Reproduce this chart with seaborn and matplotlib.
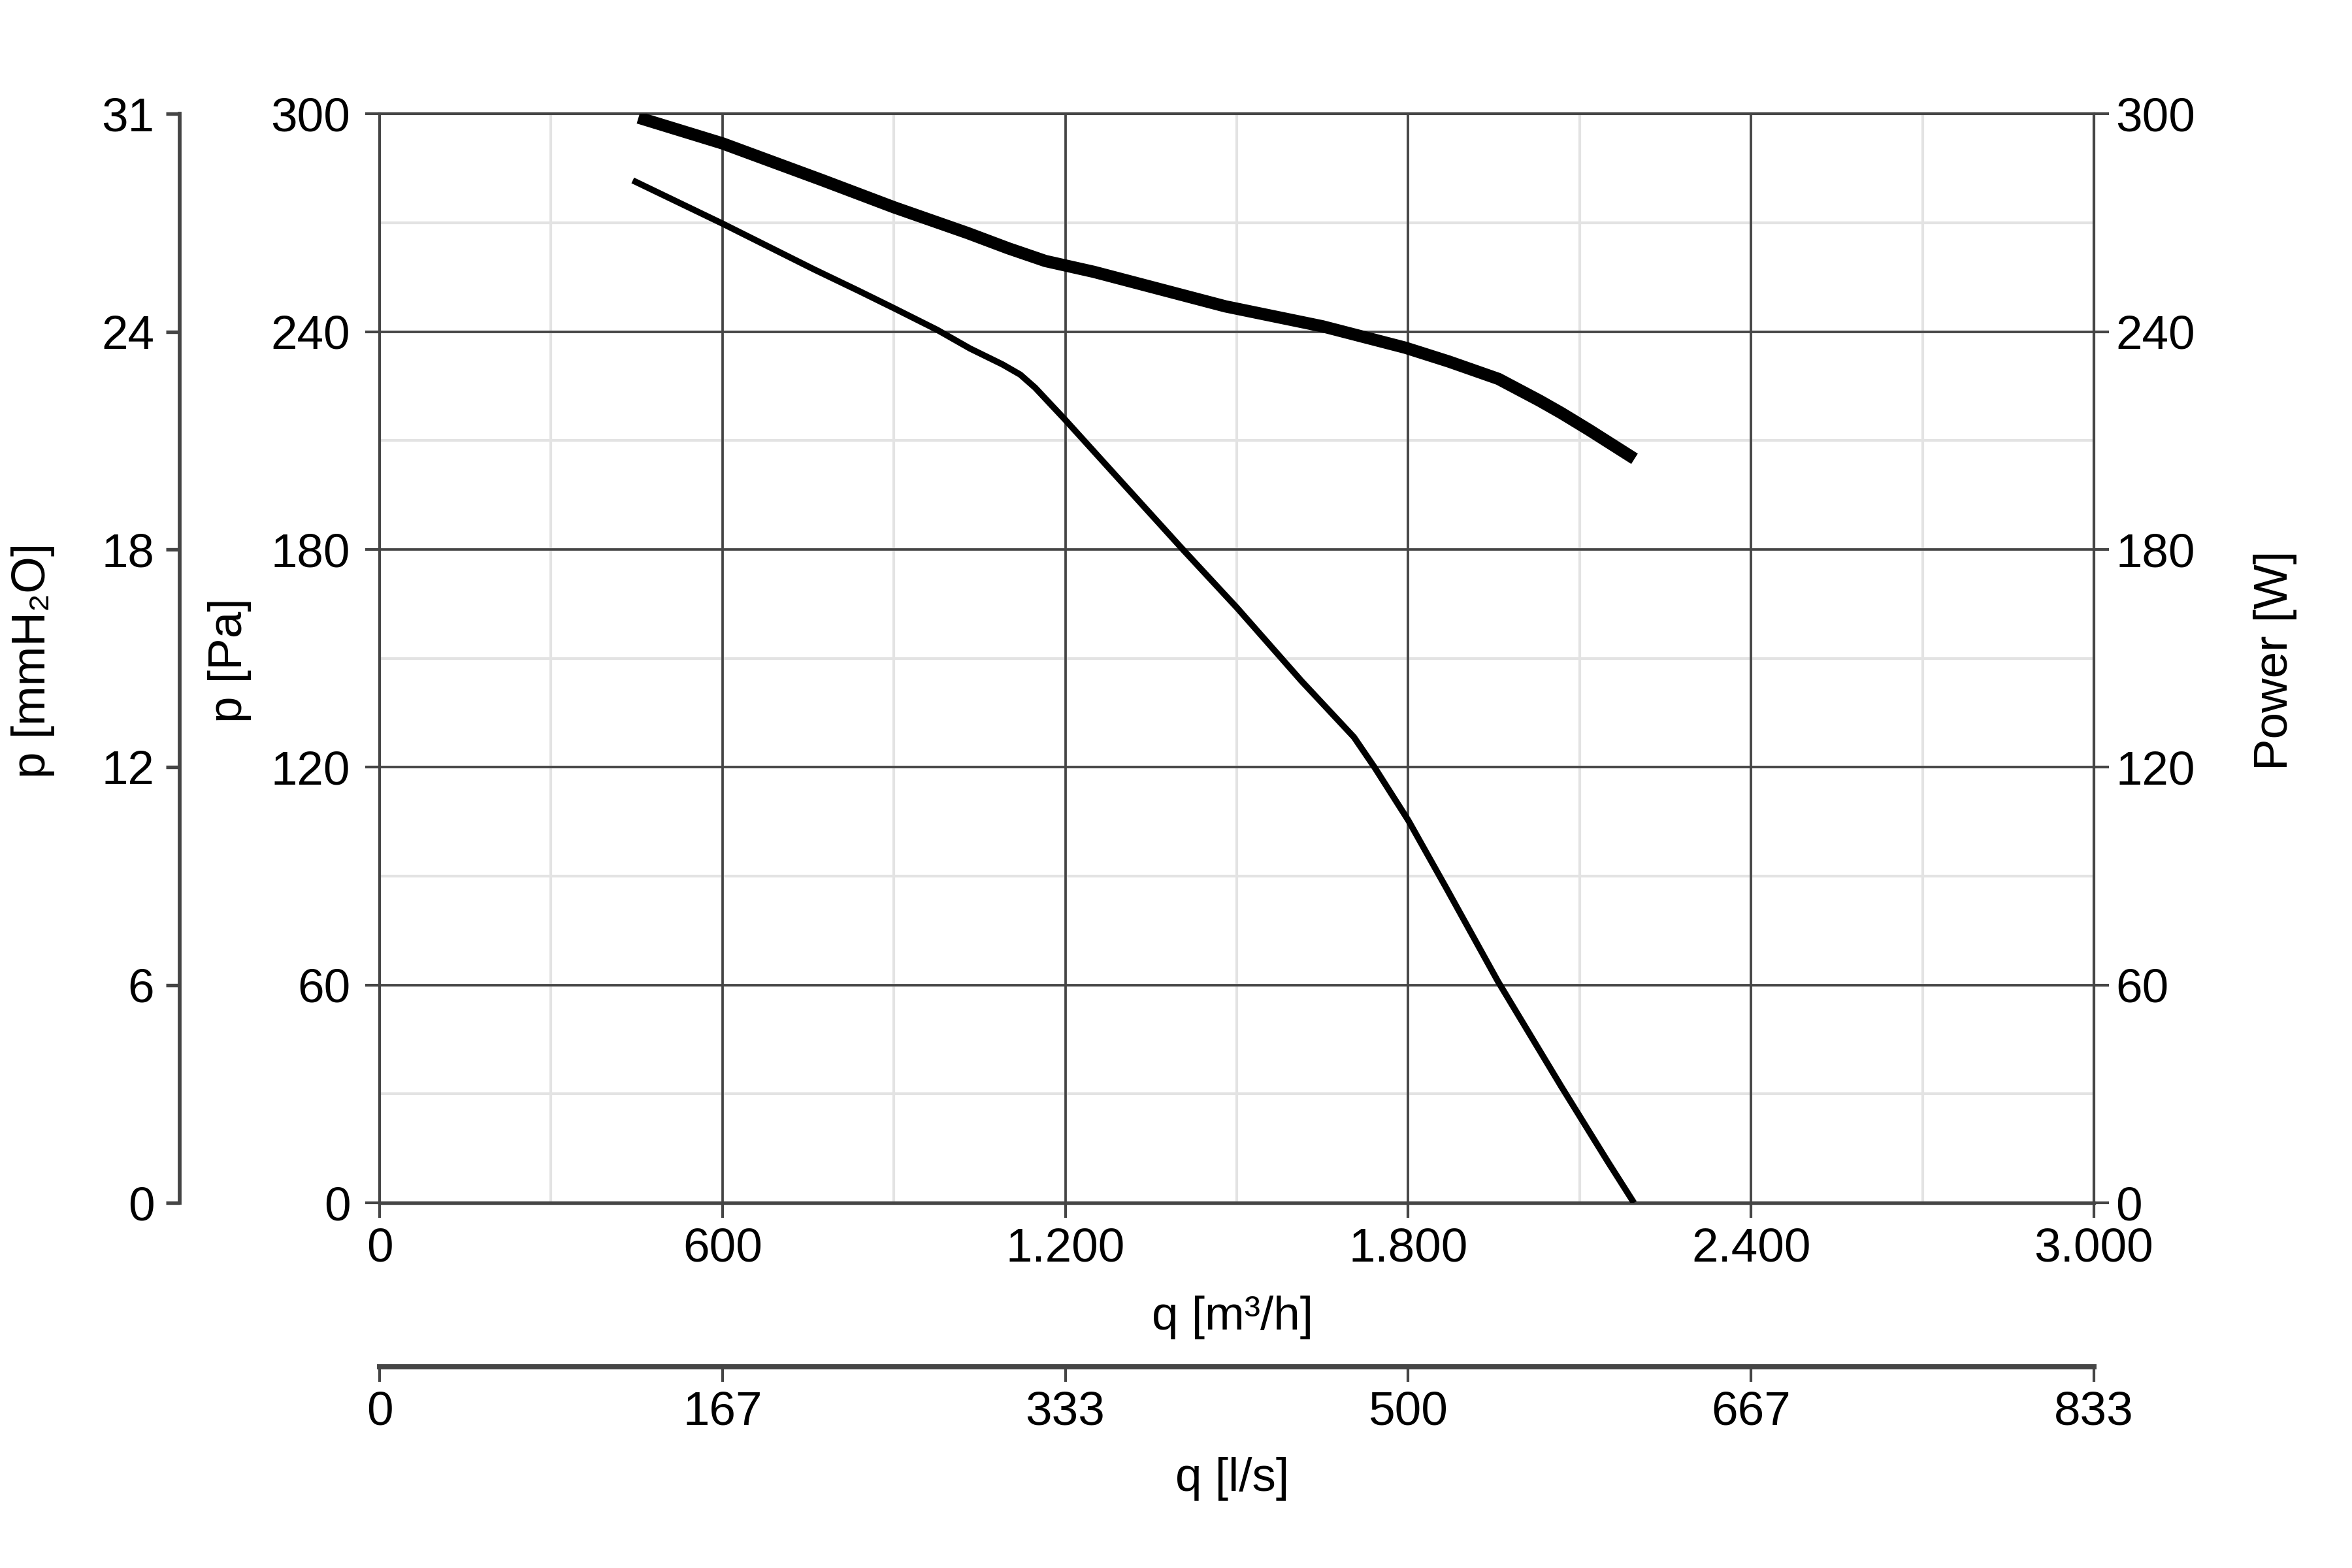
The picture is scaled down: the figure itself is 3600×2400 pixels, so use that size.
import matplotlib
matplotlib.use("Agg")
import pandas as pd
import matplotlib.pyplot as plt
from matplotlib.ticker import MultipleLocator
import seaborn as sns

sns.set_theme(style="white")
plt.rcParams['font.family'] = ['Liberation Sans', 'DejaVu Sans']

# Axis ticks and labels
q_ticks = [0, 600, 1200, 1800, 2400, 3000]
q_m3h_labels = ["0", "600", "1.200", "1.800", "2.400", "3.000"]
q_ls_labels = ["0", "167", "333", "500", "667", "833"]
p_ticks = [0, 60, 120, 180, 240, 300]
p_pa_labels = ["0", "60", "120", "180", "240", "300"]
p_mm_labels = ["0", "6", "12", "18", "24", "31"]
power_labels = ["0", "60", "120", "180", "240", "300"]

# Thick curve
thick_q = [453, 600, 774, 900, 1029, 1100, 1165, 1250, 1480, 1650, 1795, 1871, 1958,
           2030, 2068, 2117, 2196]
thick_p = [299.0, 291.9, 281.8, 274.3, 267.2, 263.0, 259.5, 256.5, 247.0, 241.5, 235.6,
           231.8, 227.0, 221.0, 217.6, 212.9, 205.0]

# Thin curve
thin_q = [443, 600, 760, 838, 900, 976, 1033, 1090, 1121, 1147, 1200, 1280, 1408, 1500,
          1613, 1705, 1741, 1800, 1866, 1957, 2068, 2149, 2195]
thin_p = [281.7, 269.8, 257.2, 251.3, 246.5, 240.5, 235.4, 231.0, 228.2, 224.6, 215.7,
          201.8, 179.6, 164.0, 143.8, 128.3, 120.0, 105.4, 86.9, 61.0, 32.0, 11.4, 0.0]

FS = 17.5
DARK = '#454545'
LIGHT = '#e3e3e3'
RECT = [0.1614, 0.2329, 0.7289, 0.6944]

fig = plt.figure(figsize=(12, 8), dpi=300)

# light minor grid on its own axes behind everything
ax_bg = fig.add_axes(RECT, zorder=0)
ax_bg.set_xlim(0, 3000)
ax_bg.set_ylim(0, 300)
ax_bg.xaxis.set_major_locator(MultipleLocator(300))
ax_bg.yaxis.set_major_locator(MultipleLocator(30))
ax_bg.grid(True, color=LIGHT, linewidth=1.0)
ax_bg.tick_params(length=0, labelbottom=False, labelleft=False)
for s in ax_bg.spines.values():
    s.set_visible(False)

ax = fig.add_axes(RECT, zorder=1)
ax.patch.set_alpha(0)

thick = pd.DataFrame({'q': thick_q, 'p': thick_p})
thin = pd.DataFrame({'q': thin_q, 'p': thin_p})
sns.lineplot(data=thick, x='q', y='p', ax=ax, color='black', linewidth=4.5,
             sort=False, estimator=None, solid_capstyle='butt', solid_joinstyle='round', zorder=3)
sns.lineplot(data=thin, x='q', y='p', ax=ax, color='black', linewidth=2.3,
             sort=False, estimator=None, solid_capstyle='butt', solid_joinstyle='round', zorder=3)

ax.set_xlim(0, 3000)
ax.set_ylim(0, 300)
ax.set_xticks(q_ticks, labels=q_m3h_labels)
ax.set_yticks(p_ticks, labels=p_pa_labels)
ax.set_xlabel('')
ax.set_ylabel('')
ax.grid(True, color=DARK, linewidth=0.9)
ax.set_axisbelow(True)
for s in ax.spines.values():
    s.set_color(DARK)
    s.set_linewidth(1.0)
ax.spines['bottom'].set_linewidth(1.3)
ax.tick_params(axis='x', bottom=True, direction='out', length=5.4, width=1.0,
               color=DARK, labelcolor='black', labelsize=FS, pad=3.6)
ax.tick_params(axis='y', left=True, direction='out', length=5.4, width=1.0,
               color=DARK, labelcolor='black', labelsize=FS, pad=5.3)

# right axis: power
ax_r = ax.twinx()
ax_r.set_ylim(0, 300)
ax_r.set_yticks(p_ticks, labels=power_labels)
ax_r.grid(False)
for s in ax_r.spines.values():
    s.set_visible(False)
ax_r.tick_params(axis='y', right=True, direction='out', length=5.4, width=1.0,
                 color=DARK, labelcolor='black', labelsize=FS, pad=2.6)

# outer left axis: mmH2O
sec_y = ax.secondary_yaxis(-0.1166)
sec_y.set_ticks(p_ticks, labels=p_mm_labels)
for s in sec_y.spines.values():
    s.set_color(DARK)
    s.set_linewidth(1.4)
sec_y.tick_params(axis='y', left=True, direction='out', length=5.0, width=1.3,
                  color=DARK, labelcolor='black', labelsize=FS, pad=4.3)

# lower axis: l/s
sec_x = ax.secondary_xaxis(-0.1506)
sec_x.set_ticks(q_ticks, labels=q_ls_labels)
for s in sec_x.spines.values():
    s.set_color(DARK)
    s.set_linewidth(1.9)
sec_x.tick_params(axis='x', bottom=True, direction='out', length=5.4, width=1.0,
                  color=DARK, labelcolor='black', labelsize=FS, pad=3.4)

# axis titles
fig.text(0.0140, 0.579, 'p [mmH\u2082O]', rotation=90, ha='center', va='center', fontsize=FS, color='black')
fig.text(0.0976, 0.579, 'p [Pa]', rotation=90, ha='center', va='center', fontsize=FS, color='black')
fig.text(0.9675, 0.579, 'Power [W]', rotation=90, ha='center', va='center', fontsize=FS, color='black')
fig.text(0.524, 0.160, 'q [m\u00b3/h]', ha='center', va='center', fontsize=FS, color='black')
fig.text(0.524, 0.0567, 'q [l/s]', ha='center', va='center', fontsize=FS, color='black')

fig.savefig('out.png', dpi=300)
